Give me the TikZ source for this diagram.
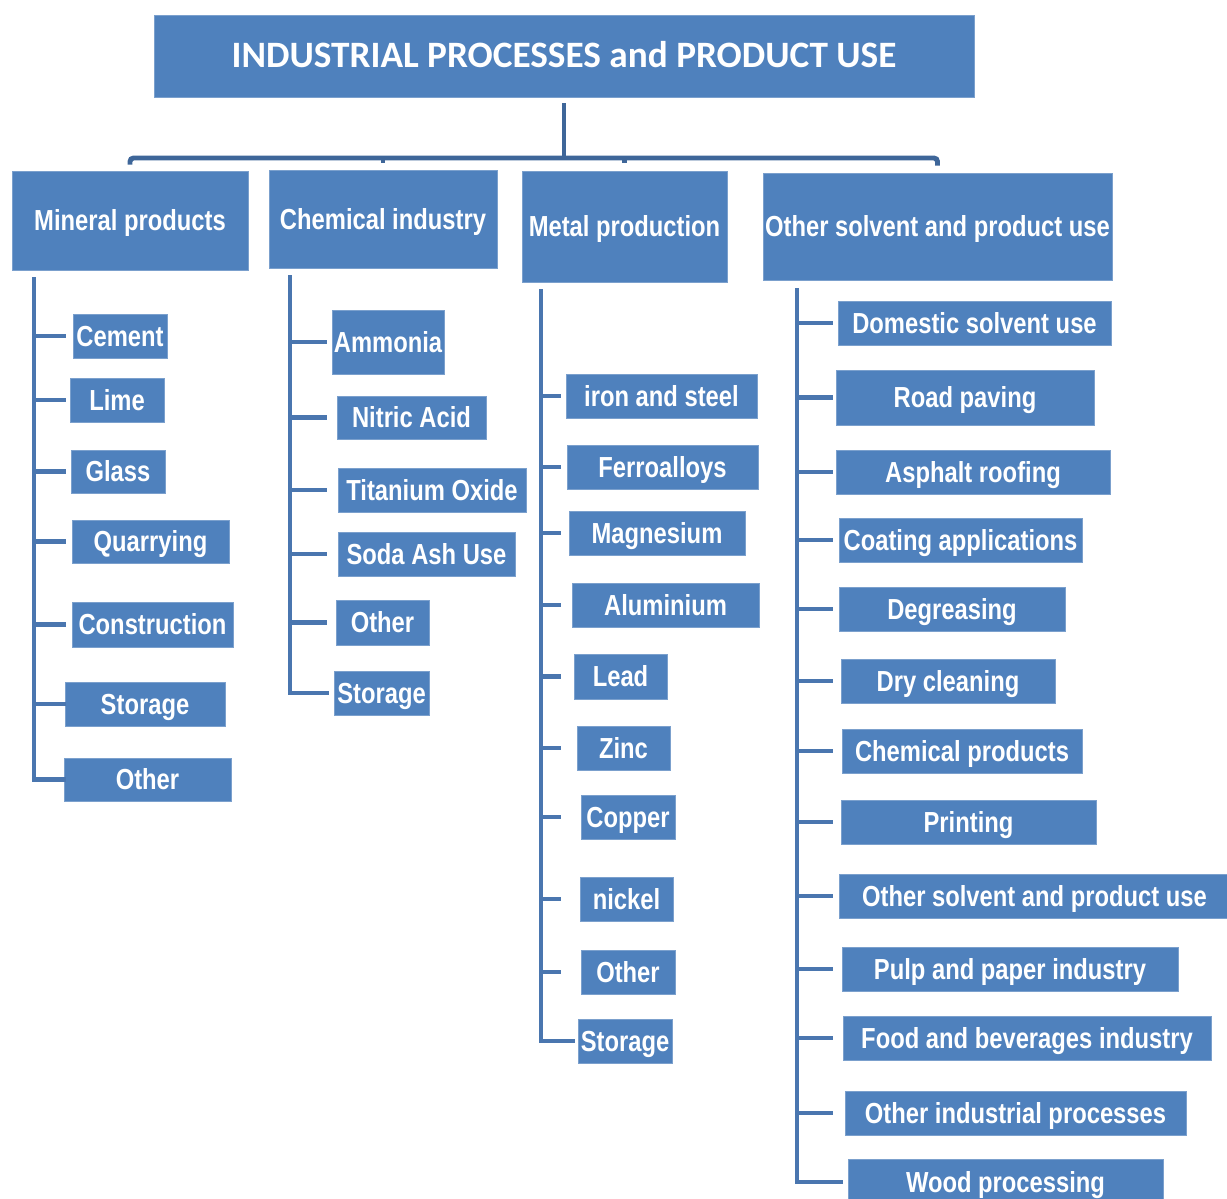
\documentclass[tikz,border=0pt]{standalone}
\usepackage{fontspec}
\setmainfont{Liberation Sans}[FakeStretch=0.82]
\newfontfamily\titlefont{Carlito}
\usepackage{tikz}
\usetikzlibrary{calc, positioning}
\definecolor{boxblue}{HTML}{4F81BD}
\definecolor{barblue}{HTML}{3E6699}
\definecolor{linkblue}{HTML}{4A76AF}
\tikzset{
    box/.style={fill=boxblue, draw=boxblue!75!white, line width=0.5pt, text=white, inner sep=0pt,
        text height=12pt, text depth=0.2pt, font=\bfseries\fontsize{16.5}{18}\selectfont},
    bar/.style={draw=barblue, line width=2.8pt, rounded corners=2pt},
    trunk/.style={draw=linkblue, line width=2.8pt},
}
\begin{document}
\begin{tikzpicture}[x=0.02cm, y=-0.02cm]
\useasboundingbox (0,0) rectangle (1227,1198);
% title and first level
\node[box, minimum width=820*0.02cm, minimum height=82*0.02cm, text height=14pt, text depth=0.4pt,
    font=\titlefont\bfseries\fontsize{21.2}{24}\selectfont] (title) at (564,56) {INDUSTRIAL PROCESSES and PRODUCT USE};
\node[box, minimum width=236*0.02cm, minimum height=99*0.02cm] (mineral) at (130,220.5) {Mineral products};
\node[box, minimum width=228*0.02cm, minimum height=98*0.02cm] (chemical) at (383,219) {Chemical industry};
\node[box, minimum width=205*0.02cm, minimum height=111*0.02cm] (metal) at (624.5,226.5) {Metal production};
\node[box, minimum width=349*0.02cm, minimum height=107*0.02cm] (solvent) at (937.5,226.5) {Other solvent and product use};
% top connector
\coordinate (hub) at (564,158);
\draw[bar] ($(title.south)+(0,6)$) -- (hub);
\draw[bar] ($(mineral.north)+(0,-6)$) |- (hub) -| ($(solvent.north)+(0,-7)$);
\draw[bar] (chemical.north |- hub) -- ++(0,5);
\draw[bar] (metal.north |- hub) -- ++(0,5);
% mineral products
\coordinate (mtop) at (34,277);
\foreach \n/\xa/\ya/\xb/\yb/\txt in {m1/73/314/167/358/Cement, m2/70/378/164/422/Lime,
        m3/71/450/165/493/Glass, m4/72/520/229/563/Quarrying, m5/72/602/233/647/Construction,
        m6/65/682/225/726/Storage, m7/64/758/231/801/Other}{
    \node[box, minimum width=(\xb-\xa)*0.02cm, minimum height=(\yb-\ya)*0.02cm] (\n) at ({(\xa+\xb)/2},{(\ya+\yb)/2}) {\txt};
    \draw[trunk, shorten >=(\xa-66)*0.02cm] (mtop |- \n.west) -- (\n.west);
}
\draw[trunk, shorten >=0.04cm] (mtop) |- (m7.west);
% chemical industry
\coordinate (ctop) at (290,275);
\foreach \n/\xa/\ya/\xb/\yb/\txt in {c1/332/310/444/374/Ammonia, c2/337/396/486/439/Nitric Acid,
        c3/338/468/526/512/Titanium Oxide, c4/338/532/515/576/Soda Ash Use, c5/336/600/429/645/Other,
        c6/334/671/429/715/Storage}{
    \node[box, minimum width=(\xb-\xa)*0.02cm, minimum height=(\yb-\ya)*0.02cm] (\n) at ({(\xa+\xb)/2},{(\ya+\yb)/2}) {\txt};
    \draw[trunk, shorten >=(\xa-327)*0.02cm] (ctop |- \n.west) -- (\n.west);
}
\draw[trunk, shorten >=0.1cm] (ctop) |- (c6.west);
% metal production
\coordinate (ltop) at (541,289);
\foreach \n/\xa/\ya/\xb/\yb/\txt in {l1/566/374/757/418/iron and steel, l2/567/445/758/489/Ferroalloys,
        l3/569/511/745/555/Magnesium, l4/572/583/759/627/Aluminium, l5/574/654/667/699/Lead,
        l6/577/726/670/770/Zinc, l7/581/795/675/839/Copper, l8/580/877/673/921/nickel,
        l9/581/950/675/994/Other, l10/578/1019/672/1063/Storage}{
    \node[box, minimum width=(\xb-\xa)*0.02cm, minimum height=(\yb-\ya)*0.02cm] (\n) at ({(\xa+\xb)/2},{(\ya+\yb)/2}) {\txt};
    \draw[trunk, shorten >=(\xa-561)*0.02cm] (ltop |- \n.west) -- (\n.west);
}
\draw[trunk, shorten >=0.06cm] (ltop) |- (l10.west);
% other solvent and product use
\coordinate (stop) at (797,288);
\foreach \n/\xa/\ya/\xb/\yb/\txt in {s1/838/301/1111/345/Domestic solvent use, s2/836/370/1094/425/Road paving,
        s3/836/450/1110/494/Asphalt roofing, s4/839/518/1082/562/Coating applications,
        s5/839/587/1065/631/Degreasing, s6/841/659/1055/703/Dry cleaning,
        s7/842/729/1082/773/Chemical products, s8/841/800/1096/844/Printing,
        s9/839/874/1230/918/Other solvent and product use, s10/842/947/1178/991/Pulp and paper industry,
        s11/843/1016/1211/1060/Food and beverages industry, s12/845/1091/1186/1135/Other industrial processes,
        s13/848/1159/1163/1205/Wood processing}{
    \node[box, minimum width=(\xb-\xa)*0.02cm, minimum height=(\yb-\ya)*0.02cm] (\n) at ({(\xa+\xb)/2},{(\ya+\yb)/2}) {\txt};
    \draw[trunk, shorten >=(\xa-833)*0.02cm] (stop |- \n.west) -- (\n.west);
}
\draw[trunk, shorten >=0.1cm] (stop) |- (s13.west);
\end{tikzpicture}
\end{document}
